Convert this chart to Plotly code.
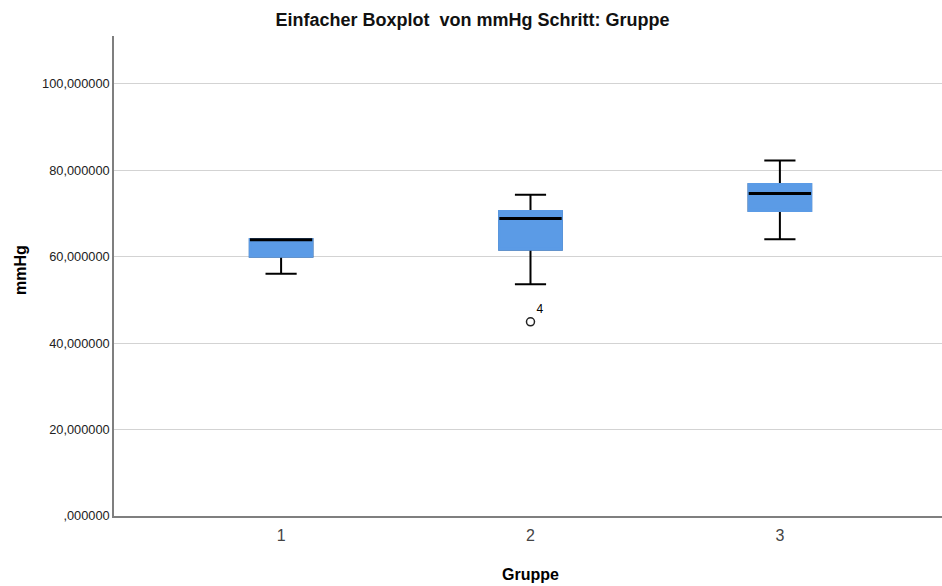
import plotly.graph_objects as go

groups = ["1", "2", "3"]
q1 = [60.0, 61.6, 70.6]
median = [63.9, 68.8, 74.6]
q3 = [64.0, 70.5, 76.7]
lower_whisker = [56.0, 53.6, 64.0]
upper_whisker = [64.0, 74.3, 82.2]
outlier_group = ["2"]
outlier_value = [44.9]
outlier_label = ["4"]

ytick_vals = [0, 20, 40, 60, 80, 100]
ytick_text = [",000000", "20,000000", "40,000000", "60,000000", "80,000000", "100,000000"]

blue = "#5B9BE6"
font = "Liberation Sans, Arial, sans-serif"

fig = go.Figure()
# whiskers (black)
fig.add_trace(go.Box(x=groups, q1=q1, median=median, q3=q3,
                     lowerfence=lower_whisker, upperfence=upper_whisker,
                     fillcolor=blue, line=dict(color="black", width=2),
                     width=0.25, whiskerwidth=0.5, boxpoints=False,
                     hoverinfo="skip", showlegend=False))
# blue box cover (hides black outline and median)
fig.add_trace(go.Box(x=groups, q1=q1, median=q1, q3=q3,
                     lowerfence=q1, upperfence=q3,
                     fillcolor=blue, line=dict(color=blue, width=2.5),
                     width=0.25, whiskerwidth=0, boxpoints=False,
                     hoverinfo="skip", showlegend=False))
# median line
fig.add_trace(go.Box(x=groups, q1=median, median=median, q3=median,
                     lowerfence=median, upperfence=median,
                     fillcolor="black", line=dict(color="black", width=3),
                     width=0.25, whiskerwidth=0, boxpoints=False,
                     hoverinfo="skip", showlegend=False))
# outlier
fig.add_trace(go.Scatter(x=outlier_group, y=outlier_value, mode="markers+text",
                         text=outlier_label, textposition="top right",
                         textfont=dict(family=font, size=12, color="black"),
                         marker=dict(symbol="circle-open", size=8,
                                     color="#222222", line=dict(width=1.5)),
                         showlegend=False, hoverinfo="skip"))

fig.update_layout(
    width=942, height=586,
    margin=dict(l=114, r=0, t=36, b=70, autoexpand=False),
    paper_bgcolor="white", plot_bgcolor="white",
    boxmode="overlay",
    title=dict(text="<b>Einfacher Boxplot \u00a0von mmHg Schritt: Gruppe</b>",
               x=472.5 / 942, xanchor="center", y=1 - 20 / 586, yanchor="middle",
               font=dict(family=font, size=18, color="#111111")),
    font=dict(family=font),
    annotations=[
        dict(text="<b>mmHg</b>", xref="paper", yref="paper", x=0, y=0.5,
             xshift=-94, yshift=6, textangle=-90, showarrow=False,
             xanchor="center", yanchor="middle",
             font=dict(family=font, size=16, color="black")),
        dict(text="<b>Gruppe</b>", xref="paper", yref="paper", x=(530 - 114) / 828, y=0,
             yshift=-58, showarrow=False, xanchor="center", yanchor="middle",
             font=dict(family=font, size=16, color="black")),
    ],
)
fig.update_xaxes(type="category", range=[-0.67, 2.65], automargin=False,
                 showline=True, linecolor="#7F7F7F", linewidth=1.5,
                 showgrid=False, ticks="", ticklabelstandoff=4,
                 tickfont=dict(size=16, color="#444444"))
fig.update_yaxes(range=[0, 111], tickvals=ytick_vals, ticktext=ytick_text, automargin=False,
                 showline=True, linecolor="#7F7F7F", linewidth=1.5,
                 showgrid=True, gridcolor="#D3D3D3", gridwidth=1,
                 zeroline=False, ticks="", ticklen=0,
                 tickfont=dict(size=12.8, color="#222222"))

fig.write_html("out.html", config={"displayModeBar": False},
               post_script="document.body.style.margin='0';")
